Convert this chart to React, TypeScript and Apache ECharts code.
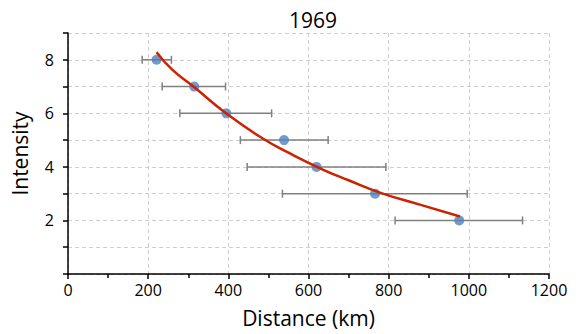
import React, { useEffect, useRef } from "react";
import * as echarts from "echarts";

const title = "1969";
const intensity = [8, 7, 6, 5, 4, 3, 2];
const distance = [221, 315, 395, 539, 620, 766, 976];
const errLow = [185, 235, 279, 430, 447, 535, 816];
const errHigh = [258, 393, 508, 649, 793, 996, 1134];
const curveX = [221, 260, 313, 396, 487, 550, 637, 700, 778, 880, 978];
const curveY = [8.28, 7.63, 7.0, 5.98, 5.05, 4.53, 3.89, 3.5, 3.04, 2.58, 2.15];

const FONT = "Open Sans";

export default function App() {
  const ref = useRef<HTMLDivElement>(null);
  useEffect(() => {
    if (!ref.current) return;
    const chart = echarts.init(ref.current, undefined, { renderer: "svg" });
    const errData = intensity.map((y, i) => [errLow[i], errHigh[i], y]);
    chart.setOption({
      animation: false,
      title: {
        text: title,
        left: 308,
        textAlign: "center",
        top: 4,
        textStyle: { fontFamily: FONT, fontSize: 21, fontWeight: "normal", color: "#000" },
      },
      grid: { left: 68, right: 29, top: 33, bottom: 60 },
      xAxis: {
        type: "value",
        min: 0,
        max: 1200,
        interval: 200,
        name: "Distance (km)",
        nameLocation: "middle",
        nameGap: 33,
        nameTextStyle: { fontFamily: FONT, fontSize: 21, color: "#000" },
        axisLine: { show: true, onZero: false, lineStyle: { color: "#000", width: 1.5 } },
        axisTick: { show: true, length: 5, lineStyle: { color: "#000", width: 1.5 } },
        minorTick: { show: true, splitNumber: 2, length: 4, lineStyle: { color: "#000", width: 1.5 } },
        axisLabel: {
          fontFamily: FONT,
          fontSize: 16,
          color: "#000",
          margin: 8,
          formatter: (v: number) => String(v),
        },
        splitLine: { show: true, lineStyle: { color: "#cfcfcf", type: [4, 3], width: 1 } },
      },
      yAxis: {
        type: "value",
        min: 0,
        max: 9,
        interval: 1,
        name: "Intensity",
        nameLocation: "middle",
        nameGap: 38,
        nameTextStyle: { fontFamily: FONT, fontSize: 21, color: "#000" },
        axisLine: { show: true, onZero: false, lineStyle: { color: "#000", width: 1.5 } },
        axisTick: { show: true, length: 5, lineStyle: { color: "#000", width: 1.5 } },
        axisLabel: {
          fontFamily: FONT,
          fontSize: 16,
          color: "#000",
          margin: 14,
          formatter: (v: number) => (v > 0 && v % 2 === 0 ? String(v) : ""),
        },
        splitLine: { show: true, lineStyle: { color: "#cfcfcf", type: [4, 3], width: 1 } },
      },
      series: [
        {
          type: "custom",
          data: errData,
          renderItem: (params: any, api: any) => {
            const lo = api.coord([api.value(0), api.value(2)]);
            const hi = api.coord([api.value(1), api.value(2)]);
            const c = 4;
            const style = { stroke: "#808080", lineWidth: 1.5 };
            return {
              type: "group",
              children: [
                { type: "line", shape: { x1: lo[0], y1: lo[1], x2: hi[0], y2: hi[1] }, style },
                { type: "line", shape: { x1: lo[0], y1: lo[1] - c, x2: lo[0], y2: lo[1] + c }, style },
                { type: "line", shape: { x1: hi[0], y1: hi[1] - c, x2: hi[0], y2: hi[1] + c }, style },
              ],
            };
          },
          z: 1,
        },
        {
          type: "scatter",
          data: intensity.map((y, i) => [distance[i], y]),
          symbol: "circle",
          symbolSize: 10,
          itemStyle: { color: "#4f81bd" },
          z: 2,
        },
        {
          type: "line",
          data: curveX.map((x, i) => [x, curveY[i]]),
          smooth: true,
          showSymbol: false,
          lineStyle: { color: "#cc2200", width: 2.5 },
          z: 3,
        },
      ],
    });
    return () => chart.dispose();
  }, []);
  return <div ref={ref} style={{ width: 578, height: 334, position: "absolute", left: 0, top: 0 }} />;
}
